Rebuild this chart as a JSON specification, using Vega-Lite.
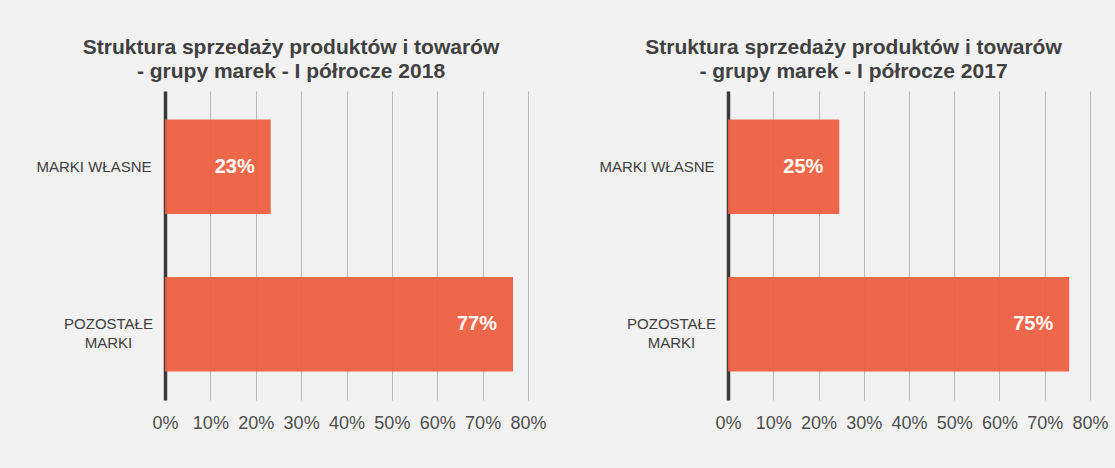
{
  "$schema": "https://vega.github.io/schema/vega-lite/v6.json",
  "background": "#f2f2f2",
  "padding": {"left": 35, "top": 37, "right": 8, "bottom": 37},
  "bounds": "flush",
  "spacing": 200,
  "config": {
    "font": "Liberation Sans",
    "view": {"stroke": null},
    "title": {"fontSize": 21, "fontWeight": "bold", "color": "#404040", "anchor": "middle", "frame": "bounds", "lineHeight": 24, "offset": 9},
    "axisX": {"title": null, "domain": false, "ticks": false, "grid": true, "gridColor": "#b8b8b8", "gridWidth": 1, "labelFontSize": 18, "labelColor": "#4d4d4d", "labelPadding": 14, "labelFlush": false, "labelOverlap": false, "format": ".0%", "values": [0, 0.1, 0.2, 0.3, 0.4, 0.5, 0.6, 0.7, 0.8]},
    "axisY": {"title": null, "ticks": false, "grid": false, "domain": true, "domainColor": "#3a3a3a", "domainWidth": 3.5, "labelFontSize": 15, "labelColor": "#404040", "labelLimit": 300,
      "labelAlign": {"condition": {"test": "datum.value === 'POZOSTAŁE MARKI'", "value": "center"}, "value": "right"},
      "labelPadding": {"condition": {"test": "datum.value === 'POZOSTAŁE MARKI'", "value": 57}, "value": 14},
      "labelExpr": "datum.value === 'POZOSTAŁE MARKI' ? ['POZOSTAŁE', 'MARKI'] : datum.label",
      "labelLineHeight": 19}
  },
  "hconcat": [
    {
      "title": {"text": ["Struktura sprzedaży produktów i towarów", "- grupy marek - I półrocze 2018"]},
      "width": 363,
      "height": 309,
      "data": {"values": [
        {"kategoria": "MARKI WŁASNE", "udzial": 0.233},
        {"kategoria": "POZOSTAŁE MARKI", "udzial": 0.767}
      ]},
      "encoding": {
        "y": {"field": "kategoria", "type": "nominal", "sort": null, "scale": {"paddingInner": 0.4, "paddingOuter": 0.18}},
        "x": {"field": "udzial", "type": "quantitative", "scale": {"domain": [0, 0.8]}}
      },
      "layer": [
        {"mark": {"type": "bar", "color": "#ef5d3d", "opacity": 0.93}},
        {"mark": {"type": "text", "align": "right", "dx": -16, "baseline": "middle", "color": "#ffffff", "fontWeight": "bold", "fontSize": 20},
         "encoding": {"text": {"field": "udzial", "type": "quantitative", "format": ".0%"}}}
      ]
    },
    {
      "title": {"text": ["Struktura sprzedaży produktów i towarów", "- grupy marek - I półrocze 2017"]},
      "width": 362,
      "height": 309,
      "data": {"values": [
        {"kategoria": "MARKI WŁASNE", "udzial": 0.246},
        {"kategoria": "POZOSTAŁE MARKI", "udzial": 0.754}
      ]},
      "encoding": {
        "y": {"field": "kategoria", "type": "nominal", "sort": null, "scale": {"paddingInner": 0.4, "paddingOuter": 0.18}},
        "x": {"field": "udzial", "type": "quantitative", "scale": {"domain": [0, 0.8]}}
      },
      "layer": [
        {"mark": {"type": "bar", "color": "#ef5d3d", "opacity": 0.93}},
        {"mark": {"type": "text", "align": "right", "dx": -16, "baseline": "middle", "color": "#ffffff", "fontWeight": "bold", "fontSize": 20},
         "encoding": {"text": {"field": "udzial", "type": "quantitative", "format": ".0%"}}}
      ]
    }
  ]
}
